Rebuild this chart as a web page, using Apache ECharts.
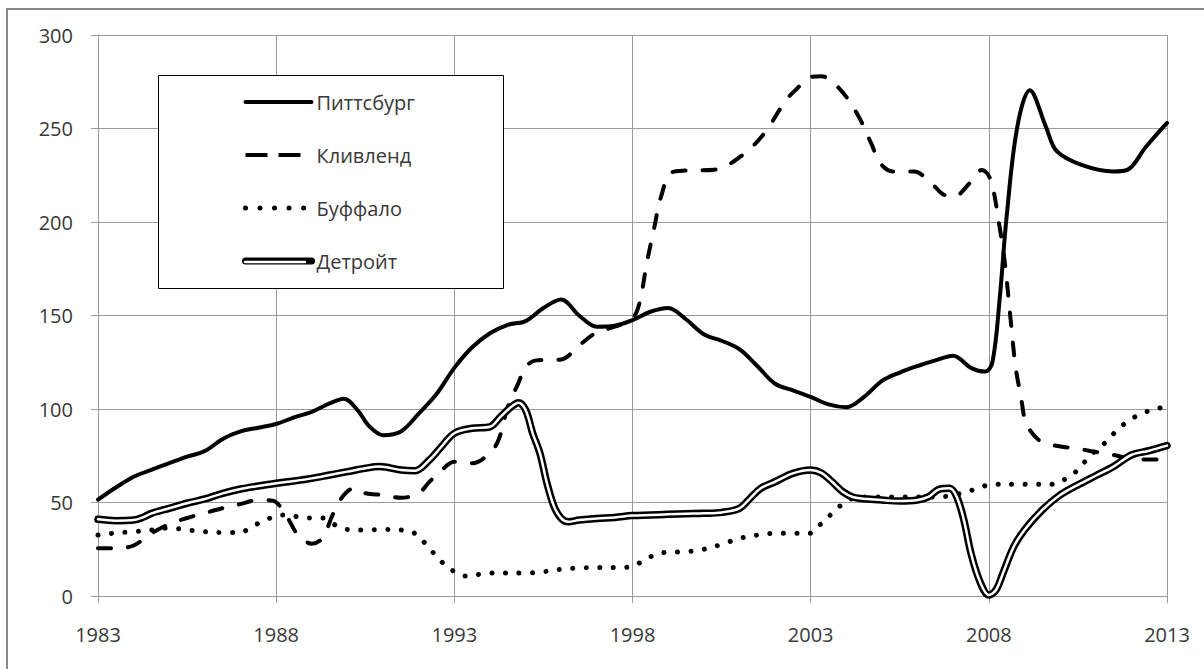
<!DOCTYPE html>
<html>
<head>
<meta charset="utf-8">
<script src="https://cdn.jsdelivr.net/npm/echarts@6/dist/echarts.min.js"></script>
<style>
html,body{margin:0;padding:0;background:#fff;}
#chart{width:1204px;height:669px;}
</style>
</head>
<body>
<div id="chart"></div>
<script>
// ---- DATA ----
const seriesNames = ['Питтсбург', 'Кливленд', 'Буффало', 'Детройт'];
const yearTicks = [1983, 1988, 1993, 1998, 2003, 2008, 2013];
const valueTicks = [0, 50, 100, 150, 200, 250, 300];

const pittsYears = [1983,1983.5,1984,1984.5,1985,1985.5,1986,1986.5,1987,1987.5,1988,1988.5,1989,1989.5,1989.9,1990.3,1990.6,1991,1991.5,1992,1992.5,1993,1993.5,1994,1994.5,1995,1995.5,1996,1996.5,1997,1997.5,1998,1998.5,1999,1999.5,2000,2000.5,2001,2001.5,2002,2002.5,2003,2003.5,2004,2004.5,2005,2005.5,2006,2006.5,2007,2007.5,2007.9,2008.1,2008.3,2008.5,2008.8,2009.15,2009.6,2009.9,2010.6,2011.5,2011.9,2012.4,2013];
const pittsValues = [51.5,58,63.8,67.5,71,74.5,77.5,84,88,90,92,95.5,98.5,103,105.5,99,91,86,88,97.5,108,122,133,140.5,145,147,154,158.5,150,144,144.5,147.5,152,154,148,140,136.5,132,123,113.5,110,106.5,102.5,101,106.5,115,119.5,123,126,128.5,122,120,125,158,203,251,270.5,251,238,230.5,227,228,240,253];

const clevYears = [1983,1983.5,1984,1984.5,1985,1985.5,1986,1986.5,1987,1987.5,1987.9,1988.3,1988.6,1989,1989.3,1989.6,1989.9,1990.2,1990.5,1991,1991.5,1992,1992.3,1992.6,1993,1993.5,1994,1994.25,1994.5,1994.8,1995,1995.3,1996,1996.5,1997,1997.5,1998,1998.2,1998.4,1998.6,1998.8,1999.1,1999.5,2000.3,2001.1,2001.7,2002.3,2002.6,2003,2003.3,2003.8,2004.3,2004.7,2004.95,2005.3,2005.9,2006.35,2006.7,2007,2007.5,2007.8,2008.05,2008.3,2008.45,2008.6,2008.75,2008.9,2009.05,2009.4,2009.8,2010.55,2011,2011.5,2011.95,2012.5,2013];
const clevValues = [25.5,25.5,27,33.5,38.5,41.7,44.4,47,49.2,51.3,51,42.4,33,28,31,44,54,57.7,55,54,52.5,55,61,66.5,71.8,71,76.5,84,101,114,122.5,126,126.5,134,141,144,148.5,157,178,196,213.5,226.5,227.5,228,236,247.5,265,271,277.5,278,271.5,258,242,231.5,227,227,221.5,215,213.5,221.5,227.8,222.5,197.5,178,150,122.6,106.6,92.4,83.4,80.7,78.6,77,75.4,73.6,73,73];

const bufYears = [1983,1983.5,1984,1984.5,1985,1985.5,1986,1986.5,1987,1987.3,1987.7,1988,1988.3,1988.6,1989,1989.3,1989.6,1990,1990.5,1991,1991.5,1991.8,1992,1992.3,1992.6,1993,1993.3,1993.7,1994,1995,1995.5,1996,1996.5,1997,1997.5,1998,1998.3,1998.7,1999,1999.5,2000,2000.5,2001,2001.5,2002,2002.5,2003,2003.2,2003.5,2003.8,2004.15,2004.6,2005,2005.5,2006,2006.6,2007,2007.4,2007.75,2008.1,2009,2009.8,2010.15,2010.5,2010.75,2011,2011.35,2011.6,2011.95,2012.3,2012.7,2013];
const bufValues = [32.6,33.7,34.4,35.3,36.4,35.3,34.4,34,34,37,40.6,42.8,43.3,42.4,41.7,41.7,38.5,35.6,35.3,35.6,35.3,34.4,31.7,25.6,19,13,10.7,11.6,12.3,12.3,13,14.3,15,15.2,15.2,15.7,19,22.5,23.4,23.7,25,27.6,30.8,32.6,33.5,33.5,33.5,37,42.4,47.8,52,53,53,53,53,53,54,55.8,58,59.7,59.7,59.7,62.6,67.4,73,77.7,83.4,88.8,94,97.7,100,101.5];

const detYears = [1983,1983.5,1984,1984.3,1984.5,1985,1985.5,1986,1986.5,1987,1987.5,1988,1988.5,1989,1989.5,1990,1990.5,1990.9,1991.5,1991.9,1992.3,1992.6,1993,1993.5,1994,1994.3,1994.6,1994.8,1995,1995.2,1995.4,1995.6,1995.8,1996,1996.2,1996.5,1997,1997.5,1998,1998.5,1999,1999.5,2000,2000.5,2001,2001.3,2001.6,2002,2002.5,2003,2003.3,2003.6,2003.9,2004.2,2004.6,2005,2005.5,2006,2006.3,2006.6,2006.9,2007.1,2007.3,2007.5,2007.75,2008,2008.2,2008.4,2008.7,2009,2009.5,2010,2010.5,2011,2011.5,2012,2012.5,2013];
const detValues = [41,40.3,40.6,42.4,44.2,46.9,49.6,51.9,54.9,57.2,58.8,60.3,61.5,62.9,64.7,66.5,68.3,69.2,67.4,67,72.7,79,87,89.7,90.5,95.9,101.2,103.4,99.5,87,76.5,60.3,47.8,41.5,39.7,40.6,41.5,42,43,43.3,43.7,44,44.2,44.7,46.9,52.2,57.6,61.1,65.6,67.4,65.8,61.1,55.8,52.8,51.9,51.3,50.8,51.3,53,57,57.6,53,40.6,22.8,7.7,0.5,3.2,12.3,26.4,35.3,46,54,59.4,64.3,69.2,75.4,77.7,80.4];

// ---- CHART ----
const BASE_YEAR = yearTicks[0];
const pts = (ys, vs) => ys.map((y, i) => [y - BASE_YEAR, vs[i]]);
const FONT = 'Open Sans';
const TXT = '#383838';
const GRID = '#9a9a9a';

const chart = echarts.init(document.getElementById('chart'), null, {renderer: 'svg'});
const smooth = 0.35;
const hideSym = {opacity: 0, color: 'rgba(0,0,0,0)'};

chart.setOption({
  animation: false,
  backgroundColor: '#ffffff',
  grid: {left: 98, right: 37, top: 35, bottom: 73, containLabel: false},
  xAxis: {
    type: 'value',
    min: 0, max: yearTicks[yearTicks.length - 1] - BASE_YEAR, interval: yearTicks[1] - yearTicks[0],
    axisLine: {show: true, lineStyle: {color: GRID, width: 1}},
    axisTick: {show: true, length: 7, lineStyle: {color: GRID}},
    splitLine: {show: true, lineStyle: {color: GRID, width: 1}},
    axisLabel: {margin: 28, fontFamily: FONT, fontSize: 20, color: TXT,
      formatter: v => String(v + BASE_YEAR)}
  },
  yAxis: {
    type: 'value',
    min: valueTicks[0], max: valueTicks[valueTicks.length - 1], interval: valueTicks[1] - valueTicks[0],
    axisLine: {show: true, lineStyle: {color: GRID, width: 1}},
    axisTick: {show: true, length: 7, lineStyle: {color: GRID}},
    splitLine: {show: true, lineStyle: {color: GRID, width: 1}},
    axisLabel: {margin: 25, fontFamily: FONT, fontSize: 20, color: TXT}
  },
  legend: {
    orient: 'vertical', left: 242, top: 92, padding: 0,
    itemWidth: 66, itemHeight: 20, itemGap: 33,
    selectedMode: false,
    textStyle: {fontFamily: FONT, fontSize: 20, color: TXT, lineHeight: 20},
    data: [
      {name: seriesNames[0], itemStyle: hideSym, lineStyle: {width: 4, cap: 'round'}},
      {name: seriesNames[1], itemStyle: hideSym, lineStyle: {width: 4, type: [22, 11], cap: 'butt'}},
      {name: seriesNames[2], itemStyle: hideSym, lineStyle: {width: 5, type: [0.01, 14.5], cap: 'round'}},
      {name: seriesNames[3], itemStyle: hideSym, lineStyle: {width: 7, cap: 'round'}}
    ],
    z: 5
  },
  graphic: [
    {type: 'polyline', z: 0, silent: true,
      shape: {points: [[7, 669], [7, 9], [1204, 9]]},
      style: {stroke: '#888888', lineWidth: 2, fill: null}},
    {type: 'rect', z: 1, silent: true,
      shape: {x: 158.5, y: 75.5, width: 345, height: 213},
      style: {fill: '#ffffff', stroke: '#000000', lineWidth: 1}},
    {type: 'line', z: 100, zlevel: 0, silent: true,
      shape: {x1: 245, y1: 262, x2: 305, y2: 262},
      style: {stroke: '#ffffff', lineWidth: 2.5, lineCap: 'round'}}
  ],
  series: [
    {name: seriesNames[0], type: 'line', data: pts(pittsYears, pittsValues), smooth: smooth, symbol: 'none',
      lineStyle: {color: '#000', width: 4, cap: 'round', join: 'round'}, itemStyle: {color: '#000'}, z: 3},
    {name: seriesNames[1], type: 'line', data: pts(clevYears, clevValues), smooth: smooth, symbol: 'none',
      lineStyle: {color: '#000', width: 4, type: [13, 17], cap: 'round', join: 'round'}, itemStyle: {color: '#000'}, z: 3},
    {name: seriesNames[2], type: 'line', data: pts(bufYears, bufValues), smooth: smooth, symbol: 'none',
      lineStyle: {color: '#000', width: 5, type: [0.01, 13.5], cap: 'round', join: 'round'}, itemStyle: {color: '#000'}, z: 3},
    {name: seriesNames[3], type: 'line', data: pts(detYears, detValues), smooth: smooth, symbol: 'none',
      lineStyle: {color: '#000', width: 7.5, cap: 'round', join: 'round'}, itemStyle: {color: '#000'}, z: 4},
    {name: seriesNames[3] + ' ', type: 'line', data: pts(detYears, detValues), smooth: smooth, symbol: 'none', silent: true,
      lineStyle: {color: '#fff', width: 2.5, cap: 'round', join: 'round'}, itemStyle: {color: '#fff'}, z: 5}
  ]
});
</script>
</body>
</html>
